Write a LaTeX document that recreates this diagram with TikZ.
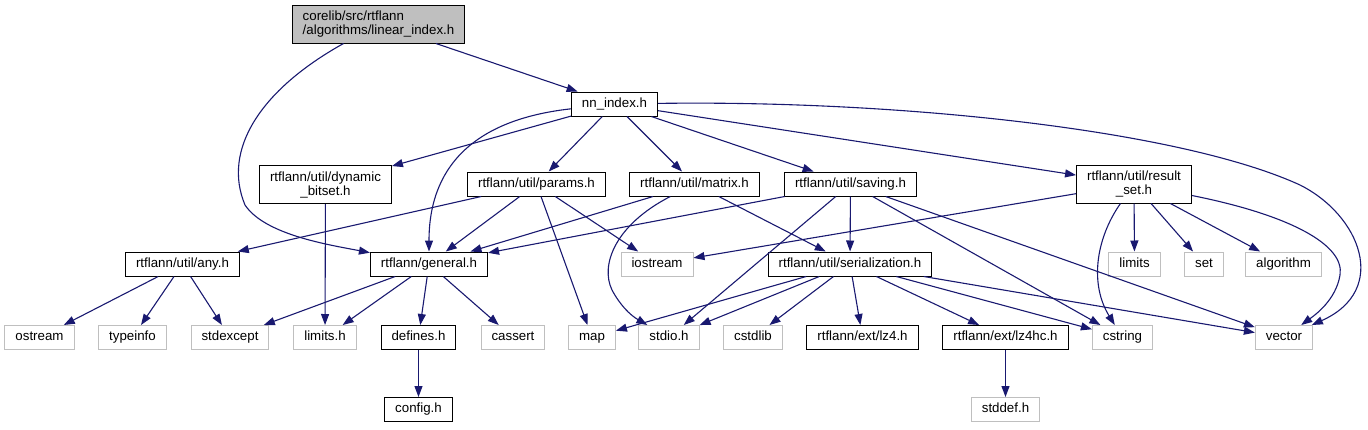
\documentclass[tikz,border=0pt]{standalone}
\usepackage{fontspec}
\setmainfont{Liberation Sans}
\usetikzlibrary{arrows.meta,positioning}
\definecolor{edgeblue}{HTML}{191970}
\definecolor{sysgrey}{HTML}{BFBFBF}
\tikzset{
  hdr/.style     = {draw=black, line width=1pt, inner xsep=10.5pt, inner ysep=0pt,
                    minimum height=24pt, font=\fontsize{13.3}{14}\selectfont,
                    text height=9.6pt, text depth=2.8pt},
  syshdr/.style  = {hdr, draw=sysgrey},
  hdrtwo/.style  = {hdr, minimum height=38pt, align=center, text height={}, text depth={}},
  rootbox/.style = {hdrtwo, fill=sysgrey, align=left},
  dep/.style     = {-{Triangle[length=11pt,width=8pt]}, draw=edgeblue, line width=1.1pt},
}

\begin{document}
\begin{tikzpicture}[x=1pt,y=-1pt,node distance=47pt]
    \useasboundingbox (0,0) rectangle (1368,429);
    % top
    \node[rootbox] (linear) at (378.5,24) {corelib/src/rtflann\\/algorithms/linear\_index.h};
    \node[hdr] (nnindex) at (614.5,104) {nn\_index.h};
    % second row
    \node[hdrtwo] (dynbitset) at (325.5,184.5) {rtflann/util/dynamic\\\_bitset.h};
    \node[hdr] (params) at (536.5,184) {rtflann/util/params.h};
    \node[hdr] (matrix) at (694.5,184) {rtflann/util/matrix.h};
    \node[hdr] (saving) at (850.5,184) {rtflann/util/saving.h};
    \node[hdrtwo] (resultset) at (1134,184) {rtflann/util/result\\\_set.h};
    % third row
    \node[hdr] (anyh) at (182.5,264) {rtflann/util/any.h};
    \node[hdr] (general) at (429,264) {rtflann/general.h};
    \node[syshdr] (iostream) at (657,264) {iostream};
    \node[hdr] (serial) at (850,264) {rtflann/util/serialization.h};
    \node[syshdr] (limits) at (1134.5,264) {limits};
    \node[syshdr] (set) at (1204,264) {set};
    \node[syshdr] (algorithm) at (1283.5,264) {algorithm};
    % fourth row
    \node[syshdr] (ostream) at (39.5,337.5) {ostream};
    \node[syshdr] (typeinfo) at (132.5,337.5) {typeinfo};
    \node[syshdr] (stdexcept) at (230,337.5) {stdexcept};
    \node[syshdr] (limitsh) at (325,337.5) {limits.h};
    \node[hdr] (defines) at (418.5,337.5) {defines.h};
    \node[syshdr] (cassert) at (513,337.5) {cassert};
    \node[syshdr] (map) at (592,337.5) {map};
    \node[syshdr] (stdio) at (669,337.5) {stdio.h};
    \node[syshdr] (cstdlib) at (753,337.5) {cstdlib};
    \node[hdr] (lzfour) at (862.5,337.5) {rtflann/ext/lz4.h};
    \node[hdr] (lzfourhc) at (1005.5,337.5) {rtflann/ext/lz4hc.h};
    \node[syshdr] (cstring) at (1122.5,337.5) {cstring};
    \node[syshdr] (vector) at (1284,337.5) {vector};
    % bottom
    \node[hdr,below=of defines] (config) {config.h};
    \node[syshdr,below=of lzfourhc] (stddef) {stddef.h};

    % edges
    \draw[dep] (linear) -- (nnindex);
    \draw[dep] (linear) .. controls (260,90) and (222,150) .. (245,205)
                        .. controls (265,235) and (330,245) .. (general);
    \draw[dep] (nnindex) -- (dynbitset);
    \draw[dep] (nnindex) .. controls (470,120) and (429,170) .. (general);
    \draw[dep] (nnindex) -- (params);
    \draw[dep] (nnindex) -- (matrix);
    \draw[dep] (nnindex) -- (saving);
    \draw[dep] (nnindex) -- (resultset);
    \draw[dep] (nnindex) .. controls (900,100) and (1180,130) .. (1300,185)
                         .. controls (1360,215) and (1390,290) .. (vector);
    \draw[dep] (dynbitset) -- (limitsh);
    \draw[dep] (params) -- (anyh);
    \draw[dep] (params) -- (general);
    \draw[dep] (params) -- (map);
    \draw[dep] (params) -- (iostream);
    \draw[dep] (matrix) -- (general);
    \draw[dep] (matrix) .. controls (615,225) and (600,265) .. (612,290)
                        .. controls (620,305) and (630,315) .. (stdio);
    \draw[dep] (matrix) -- (serial);
    \draw[dep] (saving) -- (general);
    \draw[dep] (saving) -- (stdio);
    \draw[dep] (saving) -- (serial);
    \draw[dep] (saving) -- (cstring);
    \draw[dep] (saving) -- (vector);
    \draw[dep] (resultset) -- (iostream);
    \draw[dep] (resultset) .. controls (1095,240) and (1090,285) .. (cstring);
    \draw[dep] (resultset) -- (limits);
    \draw[dep] (resultset) -- (set);
    \draw[dep] (resultset) -- (algorithm);
    \draw[dep] (resultset) .. controls (1290,215) and (1345,245) .. (1340,275)
                           .. controls (1336,300) and (1315,315) .. (vector);
    \draw[dep] (anyh) -- (ostream);
    \draw[dep] (anyh) -- (typeinfo);
    \draw[dep] (anyh) -- (stdexcept);
    \draw[dep] (general) -- (stdexcept);
    \draw[dep] (general) -- (limitsh);
    \draw[dep] (general) -- (defines);
    \draw[dep] (general) -- (cassert);
    \draw[dep] (serial) -- (map);
    \draw[dep] (serial) -- (stdio);
    \draw[dep] (serial) -- (cstdlib);
    \draw[dep] (serial) -- (lzfour);
    \draw[dep] (serial) -- (lzfourhc);
    \draw[dep] (serial) -- (cstring);
    \draw[dep] (serial) -- (vector);
    \draw[dep] (defines) -- (config);
    \draw[dep] (lzfourhc) -- (stddef);
\end{tikzpicture}
\end{document}
